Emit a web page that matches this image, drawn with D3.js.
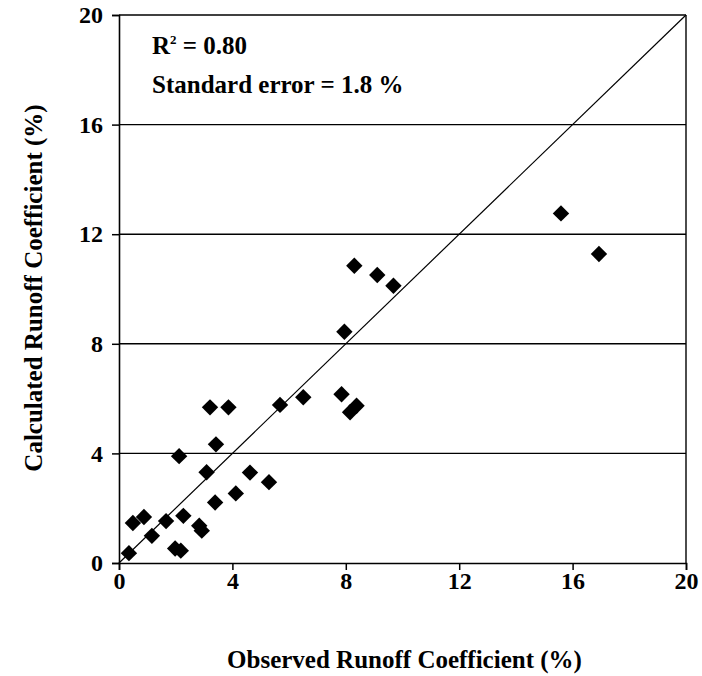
<!DOCTYPE html>
<html>
<head>
<meta charset="utf-8">
<script src="https://cdn.jsdelivr.net/npm/d3@7"></script>
<style>
  body { margin: 0; background: #fff; }
  text { font-family: "Liberation Serif", "Times New Roman", serif; font-weight: bold; fill: #000; }
</style>
</head>
<body>
<div id="chart"></div>
<script>
// observed vs calculated runoff coefficient (%)
const observed = [0.35, 0.49, 0.88, 1.16, 1.66, 1.98, 2.18, 2.27, 2.83, 2.92,
  2.12, 3.09, 3.21, 3.86, 3.42, 3.39, 4.12, 4.62, 5.29, 5.68,
  6.50, 8.30, 9.11, 9.68, 7.95, 7.85, 8.38, 8.15, 15.59, 16.93];
const calculated = [0.36, 1.46, 1.68, 0.99, 1.53, 0.53, 0.45, 1.72, 1.36, 1.18,
  3.90, 3.31, 5.68, 5.68, 4.33, 2.21, 2.54, 3.30, 2.95, 5.77,
  6.05, 10.85, 10.51, 10.12, 8.44, 6.16, 5.74, 5.50, 12.76, 11.28];
const xTicks = [0, 4, 8, 12, 16, 20];
const yTicks = [0, 4, 8, 12, 16, 20];
const statLines = ["R", "Standard error = 1.8 %"];

const width = 702, height = 676;
const margin = {top: 15, right: 16, bottom: 113, left: 119};
const fs = "24px";

const svg = d3.select("#chart").append("svg")
  .attr("width", width)
  .attr("height", height);

const x = d3.scaleLinear().domain([0, 20]).range([margin.left, width - margin.right]);
const y = d3.scaleLinear().domain([0, 20]).range([height - margin.bottom, margin.top]);

// gridlines + plot frame
svg.append("g")
  .selectAll("line")
  .data(yTicks.filter(d => d > 0))
  .join("line")
  .attr("x1", x(0)).attr("x2", x(20))
  .attr("y1", d => y(d)).attr("y2", d => y(d))
  .attr("stroke", "#000").attr("stroke-width", 1.4);

svg.append("line")
  .attr("x1", x(20)).attr("x2", x(20))
  .attr("y1", y(0)).attr("y2", y(20))
  .attr("stroke", "#000").attr("stroke-width", 1.4);

// 1:1 line
svg.append("line")
  .attr("x1", x(0)).attr("y1", y(0))
  .attr("x2", x(20)).attr("y2", y(20))
  .attr("stroke", "#000").attr("stroke-width", 1.2);

// axes
const xAxis = svg.append("g")
  .attr("transform", `translate(0,${y(0)})`)
  .call(d3.axisBottom(x).tickValues(xTicks).tickSize(7).tickPadding(2));
const yAxis = svg.append("g")
  .attr("transform", `translate(${x(0)},0)`)
  .call(d3.axisLeft(y).tickValues(yTicks).tickSize(7).tickPadding(9));

[xAxis, yAxis].forEach(a => {
  a.select(".domain").attr("stroke", "#000").attr("stroke-width", 1.6);
  a.selectAll(".tick line").attr("stroke", "#000").attr("stroke-width", 1.5);
  a.selectAll(".tick text")
    .style("font-family", '"Liberation Serif", serif')
    .style("font-weight", "bold")
    .style("font-size", fs)
    .attr("fill", "#000");
});

// points
const pts = observed.map((o, i) => ({o, c: calculated[i]}));
const r = 8.2;
svg.append("g")
  .selectAll("path")
  .data(pts)
  .join("path")
  .attr("transform", d => `translate(${x(d.o)},${y(d.c)})`)
  .attr("d", `M0,${-r}L${r},0L0,${r}L${-r},0Z`)
  .attr("fill", "#000");

// stats annotation
const t1 = svg.append("text")
  .attr("x", 152).attr("y", 54)
  .style("font-size", "25px");
t1.append("tspan").text(statLines[0]);
t1.append("tspan").attr("dy", -10).style("font-size", "13px").text("2");
t1.append("tspan").attr("dy", 10).text(" = 0.80");

svg.append("text")
  .attr("x", 152).attr("y", 93)
  .style("font-size", "25px")
  .text(statLines[1]);

// axis titles
svg.append("text")
  .attr("x", (x(0) + x(20)) / 2 + 2)
  .attr("y", 668)
  .attr("text-anchor", "middle")
  .style("font-size", "25px")
  .text("Observed Runoff Coefficient (%)");

svg.append("text")
  .attr("transform", `translate(42,${(y(0) + y(20)) / 2 - 1}) rotate(-90)`)
  .attr("text-anchor", "middle")
  .style("font-size", "25px")
  .text("Calculated Runoff Coefficient (%)");
</script>
</body>
</html>
